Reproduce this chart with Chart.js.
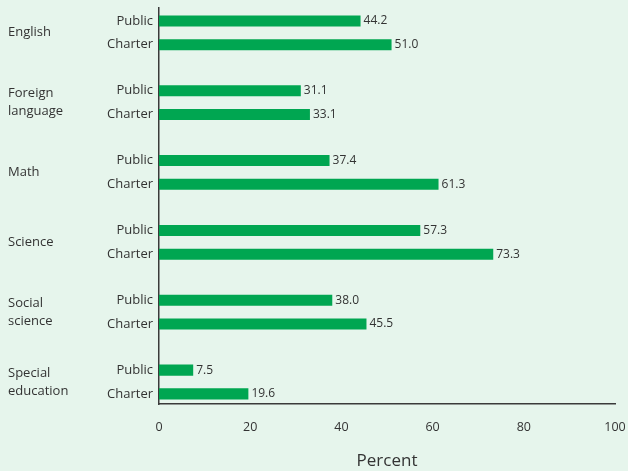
<!DOCTYPE html>
<html lang="en">
  <head>
    <meta charset="UTF-8" />
    <script src="https://cdn.jsdelivr.net/npm/chart.js"></script>
    <title>Public vs Charter</title>
    <style>
      html, body { margin: 0; padding: 0; background: #e6f5ec; }
      #wrap { width: 628px; height: 471px; }
    </style>
  </head>
  <body>
    <div id="wrap">
      <canvas id="chart" width="628" height="471"></canvas>
    </div>
  </body>
</html>
<script>
  const subjects = [
    "English",
    ["Foreign", "language"],
    "Math",
    "Science",
    ["Social", "science"],
    ["Special", "education"],
  ];
  const seriesNames = ["Public", "Charter"];
  const publicValues = [44.2, 31.1, 37.4, 57.3, 38.0, 7.5];
  const charterValues = [51.0, 33.1, 61.3, 73.3, 45.5, 19.6];
  const xTicks = [0, 20, 40, 60, 80, 100];

  const barColor = "#00a651";
  const textColor = "#333333";
  const font = "'Open Sans', 'Noto Sans', sans-serif";

  // bars sit on an index axis (0 = English ... 5 = Special education)
  function toPoints(values) {
    return values.map((v, i) => ({ x: v, y: i }));
  }

  // draws the Public/Charter names and the value at the end of each bar
  const barLabels = {
    id: "barLabels",
    afterDatasetsDraw(chart) {
      const ctx = chart.ctx;
      const left = chart.chartArea.left;
      ctx.save();
      ctx.fillStyle = textColor;
      ctx.textBaseline = "middle";
      chart.data.datasets.forEach((ds, d) => {
        const meta = chart.getDatasetMeta(d);
        meta.data.forEach((bar, i) => {
          ctx.font = "12px " + font;
          ctx.textAlign = "left";
          ctx.fillText(ds.data[i].x.toFixed(1), bar.x + 3, bar.y);
          ctx.font = "13px " + font;
          ctx.textAlign = "right";
          ctx.fillText(ds.label, left - 6, bar.y);
        });
      });
      ctx.restore();
    },
  };

  new Chart(document.getElementById("chart"), {
    type: "bar",
    data: {
      datasets: [
        { label: seriesNames[0], data: toPoints(publicValues), backgroundColor: barColor },
        { label: seriesNames[1], data: toPoints(charterValues), backgroundColor: barColor },
      ],
    },
    options: {
      indexAxis: "y",
      responsive: false,
      animation: false,
      layout: { padding: { left: 8, right: 13, top: 8, bottom: 0 } },
      categoryPercentage: 0.68,
      barPercentage: 0.465,
      plugins: { legend: { display: false }, tooltip: { enabled: false } },
      scales: {
        x: {
          type: "linear",
          min: 0,
          max: 100,
          afterBuildTicks: (s) => { s.ticks = xTicks.map((v) => ({ value: v })); },
          afterFit: (s) => { s.height = 67; s.paddingLeft = 0; s.paddingRight = 0; },
          grid: { display: false },
          border: { display: true, color: "#3a3a3a", width: 1.5 },
          ticks: { color: textColor, padding: 8, font: { family: font, size: 12.5 } },
          title: {
            display: true,
            text: "Percent",
            color: textColor,
            padding: { top: 0, bottom: 0 },
            font: { family: font, size: 17 },
          },
        },
        y: {
          type: "linear",
          reverse: true,
          offset: false,
          min: -0.355,
          max: 5.315,
          afterBuildTicks: (s) => { s.ticks = subjects.map((_, i) => ({ value: i })); },
          afterFit: (s) => { s.width = 151; s.paddingTop = 0; s.paddingBottom = 0; },
          grid: { display: false },
          border: { display: true, color: "#3a3a3a", width: 1.5 },
          ticks: {
            color: textColor,
            crossAlign: "far",
            font: { family: font, size: 13, lineHeight: 1.4 },
            callback: (v) => subjects[v],
          },
        },
      },
    },
    plugins: [barLabels],
  });
</script>
